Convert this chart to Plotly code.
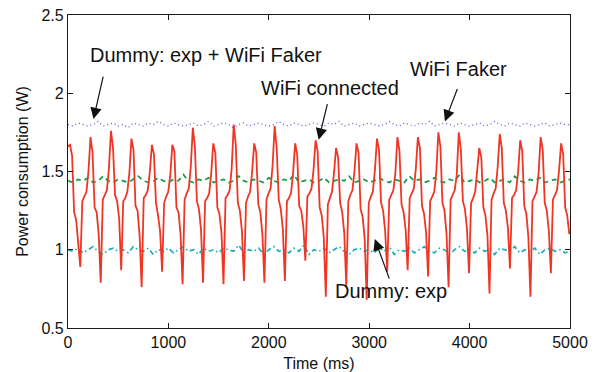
import numpy as np
import plotly.graph_objects as go

# ---------------- data ----------------
# "WiFi connected" trace, sampled every RED_DT ms starting at 0 ms
RED_DT = 20.38
red_w = [
    1.66,
    1.67, 1.60, 1.24, 1.19, 1.06, 0.89, 1.31, 1.34, 1.37, 1.50,
    1.72, 1.62, 1.27, 1.24, 1.10, 0.79, 1.32, 1.35, 1.38, 1.52,
    1.76, 1.65, 1.35, 1.31, 1.20, 0.87, 1.31, 1.33, 1.37, 1.49,
    1.71, 1.64, 1.28, 1.25, 1.09, 0.76, 1.33, 1.35, 1.38, 1.50,
    1.67, 1.61, 1.30, 1.22, 1.12, 0.86, 1.30, 1.34, 1.37, 1.48,
    1.67, 1.63, 1.27, 1.24, 1.10, 0.78, 1.32, 1.36, 1.39, 1.53,
    1.78, 1.66, 1.31, 1.26, 1.13, 0.79, 1.31, 1.33, 1.36, 1.49,
    1.68, 1.62, 1.27, 1.23, 1.11, 0.78, 1.33, 1.35, 1.38, 1.52,
    1.80, 1.67, 1.30, 1.25, 1.12, 0.80, 1.30, 1.34, 1.37, 1.50,
    1.68, 1.62, 1.29, 1.24, 1.10, 0.79, 1.32, 1.36, 1.39, 1.54,
    1.79, 1.65, 1.32, 1.26, 1.13, 0.80, 1.31, 1.33, 1.36, 1.49,
    1.68, 1.61, 1.28, 1.25, 1.15, 0.93, 1.34, 1.36, 1.39, 1.51,
    1.70, 1.63, 1.27, 1.22, 1.08, 0.70, 1.29, 1.33, 1.37, 1.49,
    1.65, 1.59, 1.30, 1.24, 1.11, 0.77, 1.31, 1.35, 1.38, 1.50,
    1.68, 1.62, 1.26, 1.21, 1.07, 0.68, 1.30, 1.34, 1.37, 1.51,
    1.71, 1.64, 1.30, 1.25, 1.12, 0.86, 1.32, 1.35, 1.38, 1.49,
    1.72, 1.63, 1.29, 1.24, 1.13, 0.87, 1.33, 1.36, 1.39, 1.52,
    1.72, 1.65, 1.28, 1.23, 1.11, 0.83, 1.31, 1.34, 1.37, 1.50,
    1.75, 1.66, 1.30, 1.25, 1.10, 0.76, 1.32, 1.35, 1.38, 1.48,
    1.75, 1.64, 1.31, 1.26, 1.13, 0.85, 1.30, 1.33, 1.37, 1.51,
    1.65, 1.59, 1.27, 1.22, 1.09, 0.72, 1.32, 1.36, 1.39, 1.53,
    1.74, 1.65, 1.30, 1.25, 1.14, 0.88, 1.33, 1.35, 1.38, 1.50,
    1.70, 1.63, 1.28, 1.23, 1.08, 0.70, 1.31, 1.34, 1.37, 1.49,
    1.72, 1.64, 1.30, 1.25, 1.12, 0.85, 1.32, 1.35, 1.38, 1.51,
    1.68, 1.61, 1.27, 1.22, 1.10,
]

# the three flat traces, sampled every NOISE_DT ms from 0 to 5000 ms
NOISE_DT = 50
faker_w = [  # Dummy: exp + WiFi Faker (dotted, ~1.8 W)
    1.80, 1.79, 1.81, 1.80, 1.79, 1.80, 1.82, 1.79, 1.80, 1.81,
    1.79, 1.80, 1.78, 1.81, 1.80, 1.79, 1.81, 1.80, 1.82, 1.80,
    1.79, 1.81, 1.80, 1.79, 1.80, 1.81, 1.79, 1.80, 1.82, 1.79,
    1.80, 1.81, 1.80, 1.78, 1.80, 1.81, 1.79, 1.80, 1.81, 1.80,
    1.79, 1.80, 1.82, 1.80, 1.79, 1.81, 1.80, 1.79, 1.80, 1.81,
    1.80, 1.79, 1.81, 1.80, 1.82, 1.79, 1.80, 1.81, 1.79, 1.80,
    1.81, 1.80, 1.79, 1.80, 1.82, 1.80, 1.79, 1.81, 1.80, 1.79,
    1.81, 1.80, 1.82, 1.79, 1.80, 1.81, 1.80, 1.79, 1.81, 1.80,
    1.79, 1.80, 1.81, 1.79, 1.80, 1.82, 1.80, 1.79, 1.81, 1.80,
    1.79, 1.81, 1.80, 1.79, 1.80, 1.81, 1.79, 1.80, 1.81, 1.80,
    1.80,
]
wifi_faker_w = [  # WiFi Faker (dashed, ~1.45 W)
    1.44, 1.43, 1.45, 1.44, 1.46, 1.43, 1.44, 1.47, 1.44, 1.43,
    1.45, 1.44, 1.43, 1.45, 1.47, 1.44, 1.43, 1.44, 1.46, 1.44,
    1.43, 1.45, 1.44, 1.48, 1.44, 1.43, 1.45, 1.44, 1.46, 1.43,
    1.44, 1.45, 1.43, 1.44, 1.47, 1.44, 1.43, 1.45, 1.44, 1.43,
    1.46, 1.44, 1.43, 1.45, 1.44, 1.48, 1.43, 1.44, 1.45, 1.43,
    1.44, 1.46, 1.43, 1.44, 1.45, 1.44, 1.47, 1.43, 1.44, 1.45,
    1.43, 1.44, 1.46, 1.44, 1.43, 1.45, 1.44, 1.43, 1.47, 1.44,
    1.45, 1.43, 1.44, 1.46, 1.44, 1.43, 1.45, 1.44, 1.48, 1.43,
    1.44, 1.45, 1.43, 1.44, 1.46, 1.43, 1.44, 1.45, 1.43, 1.47,
    1.44, 1.43, 1.45, 1.44, 1.46, 1.43, 1.44, 1.45, 1.43, 1.44,
    1.45,
]
dummy_w = [  # Dummy: exp (dash-dot, ~1.0 W)
    1.00, 0.99, 1.01, 0.98, 1.00, 1.02, 0.99, 0.97, 1.00, 1.01,
    0.99, 1.00, 0.98, 1.02, 1.00, 0.99, 1.01, 0.97, 1.00, 0.99,
    1.01, 0.98, 1.00, 1.02, 0.99, 1.00, 0.97, 1.01, 0.99, 1.00,
    0.98, 1.01, 1.00, 0.99, 1.03, 0.98, 1.00, 0.99, 1.01, 0.97,
    1.00, 1.02, 0.99, 1.00, 0.98, 1.01, 0.99, 1.03, 0.97, 1.00,
    0.99, 1.01, 0.98, 1.00, 1.02, 0.99, 0.97, 1.00, 1.01, 0.99,
    1.00, 0.98, 1.01, 0.99, 1.02, 0.97, 1.00, 0.99, 1.01, 0.98,
    1.00, 1.02, 0.99, 0.98, 1.01, 1.00, 0.97, 1.00, 1.02, 0.99,
    1.00, 0.98, 1.01, 0.99, 1.00, 0.97, 1.01, 1.00, 0.99, 1.02,
    0.98, 1.00, 0.99, 1.01, 0.97, 1.00, 1.01, 0.99, 1.00, 0.98,
    0.99,
]

x_ticks = [0, 1000, 2000, 3000, 4000, 5000]
y_ticks = [0.5, 1, 1.5, 2, 2.5]

# annotation labels: (text, x, y) and arrows: (tip_x, tip_y, tail dx px, tail dy px)
labels = [
    ("Dummy: exp + WiFi Faker", 1371, 2.246),
    ("WiFi connected", 2610, 2.035),
    ("WiFi Faker", 3894, 2.157),
    ("Dummy: exp", 3215, 0.734),
]
arrows = [
    (254, 1.835, 10, -44),
    (2497, 1.703, 9, -37),
    (3754, 1.82, 13, -34),
    (3056, 1.068, 15, 41),
]

# ---------------- figure ----------------
FONT = "Liberation Sans, Arial, Helvetica, sans-serif"
red_t = np.arange(len(red_w)) * RED_DT
noise_t = np.arange(len(faker_w)) * NOISE_DT

fig = go.Figure()
fig.add_trace(go.Scatter(x=noise_t, y=faker_w, mode="lines",
                         line=dict(color="#5c5ccf", width=1.3, dash="1px,3px")))
fig.add_trace(go.Scatter(x=noise_t, y=wifi_faker_w, mode="lines",
                         line=dict(color="#139a43", width=1.7, dash="5px,4px")))
fig.add_trace(go.Scatter(x=noise_t, y=dummy_w, mode="lines",
                         line=dict(color="#19aebf", width=1.7, dash="5px,3px,1.5px,3px")))
fig.add_trace(go.Scatter(x=red_t, y=red_w, mode="lines",
                         line=dict(color="#ef3524", width=1.8)))

for text, x, y in labels:
    fig.add_annotation(x=x, y=y, text=text, showarrow=False,
                       xanchor="center", yanchor="middle",
                       font=dict(family=FONT, size=20, color="#111111"))
for tx, ty, dx, dy in arrows:
    fig.add_annotation(x=tx, y=ty, text="", showarrow=True, ax=dx, ay=dy,
                       arrowhead=2, arrowsize=1.9, arrowwidth=1.2,
                       arrowcolor="#111111")

axis_common = dict(showline=True, linecolor="#1a1a1a", linewidth=1.3,
                   mirror="ticks", ticks="inside", ticklen=5, tickwidth=1,
                   tickcolor="#1a1a1a", showgrid=False, zeroline=False,
                   automargin=False, ticklabeloverflow="allow",
                   tickfont=dict(family=FONT, size=16, color="#111111"))

fig.update_xaxes(range=[0, 5000], tickvals=x_ticks,
                 ticktext=[str(v) for v in x_ticks],
                 title=dict(text="Time (ms)", standoff=10,
                            font=dict(family=FONT, size=16, color="#111111")),
                 **axis_common)
fig.update_yaxes(range=[0.5, 2.5], tickvals=y_ticks,
                 ticktext=["0.5", "1", "1.5", "2", "2.5"],
                 title=dict(text="Power consumption (W)", standoff=8,
                            font=dict(family=FONT, size=16, color="#111111")),
                 **axis_common)

# the page adds an 8 px body margin, so the figure is sized to fit inside it
fig.update_layout(width=594, height=364,
                  margin=dict(l=60, r=32, t=7, b=44),
                  paper_bgcolor="white", plot_bgcolor="white",
                  showlegend=False)

fig.write_html("out.html")
